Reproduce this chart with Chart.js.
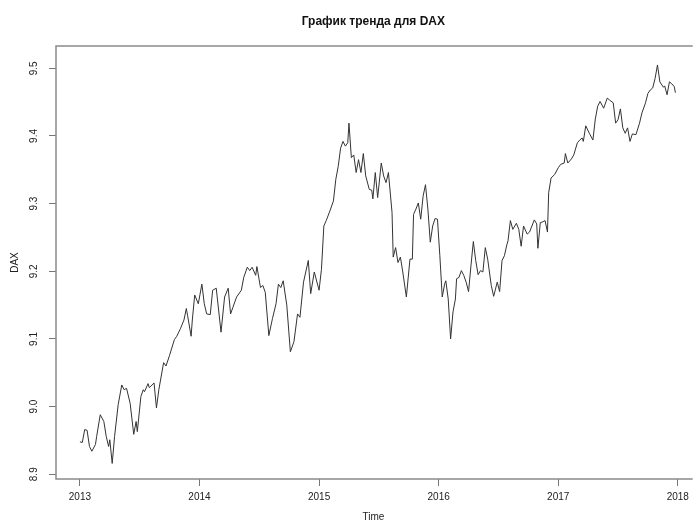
<!DOCTYPE html>
<html>
<head>
<meta charset="utf-8">
<script src="https://cdn.jsdelivr.net/npm/chart.js@4"></script>
<style>
  body { margin: 0; background: #fff; }
  #grafica { display: block; }
</style>
</head>
<body>
<canvas id="grafica" width="694" height="523"></canvas>
<script>
// weekly points (time in years, log of DAX)
const tiempo = [
  2013.00, 2013.02, 2013.04, 2013.06, 2013.08, 2013.10, 2013.13, 2013.14, 2013.17, 2013.20,
  2013.22, 2013.24, 2013.25, 2013.27, 2013.29, 2013.32, 2013.35, 2013.37, 2013.39, 2013.42,
  2013.45, 2013.47, 2013.48, 2013.51, 2013.53, 2013.54, 2013.57, 2013.58, 2013.62, 2013.64,
  2013.66, 2013.70, 2013.72, 2013.75, 2013.79, 2013.81, 2013.84, 2013.87, 2013.89, 2013.90,
  2013.93, 2013.94, 2013.96, 2013.99, 2014.02, 2014.04, 2014.06, 2014.09, 2014.11, 2014.14,
  2014.18, 2014.21, 2014.24, 2014.26, 2014.28, 2014.31, 2014.35, 2014.37,
  2014.40, 2014.42, 2014.44, 2014.47, 2014.48, 2014.51, 2014.53, 2014.55, 2014.58, 2014.61,
  2014.64, 2014.66, 2014.68, 2014.70, 2014.73, 2014.76, 2014.79, 2014.82, 2014.84, 2014.87,
  2014.91, 2014.93, 2014.96, 2015.00, 2015.02, 2015.04, 2015.06, 2015.09, 2015.12, 2015.14,
  2015.16, 2015.18, 2015.20, 2015.22, 2015.24, 2015.25, 2015.27, 2015.29, 2015.31, 2015.33,
  2015.35, 2015.37, 2015.39, 2015.42, 2015.44, 2015.45, 2015.47, 2015.49, 2015.52, 2015.54,
  2015.56, 2015.58, 2015.61, 2015.62, 2015.64, 2015.66, 2015.68, 2015.70, 2015.73, 2015.76,
  2015.78, 2015.79, 2015.81, 2015.83, 2015.85, 2015.87, 2015.89, 2015.91, 2015.93, 2015.95,
  2015.97, 2015.99, 2016.01, 2016.03, 2016.05, 2016.06, 2016.08,
  2016.10, 2016.12, 2016.14, 2016.15, 2016.17, 2016.19, 2016.21, 2016.23, 2016.25, 2016.27,
  2016.29, 2016.31, 2016.33, 2016.35, 2016.37, 2016.39, 2016.41, 2016.44, 2016.46, 2016.49,
  2016.51, 2016.53, 2016.55, 2016.57, 2016.58, 2016.60, 2016.62, 2016.65, 2016.67, 2016.69,
  2016.71, 2016.74, 2016.76, 2016.78, 2016.80, 2016.82, 2016.83, 2016.85, 2016.87, 2016.89,
  2016.91, 2016.92, 2016.94, 2016.97, 2017.00, 2017.02, 2017.05, 2017.06, 2017.08, 2017.11,
  2017.13, 2017.16, 2017.18, 2017.20, 2017.21, 2017.23, 2017.26, 2017.29, 2017.31, 2017.33,
  2017.35, 2017.38, 2017.41, 2017.43, 2017.46, 2017.48, 2017.50, 2017.52, 2017.54, 2017.56,
  2017.58, 2017.60, 2017.62, 2017.65, 2017.68, 2017.70, 2017.73, 2017.75, 2017.77, 2017.79,
  2017.81, 2017.83, 2017.85, 2017.88, 2017.89, 2017.91, 2017.93, 2017.95, 2017.97, 2017.98
];
const dax = [
  8.948, 8.947, 8.966, 8.965, 8.941, 8.934, 8.944, 8.956, 8.988, 8.978,
  8.956, 8.941, 8.951, 8.916, 8.956, 9.003, 9.032, 9.025, 9.027, 9.005,
  8.959, 8.978, 8.963, 9.015, 9.025, 9.022, 9.034, 9.028, 9.035, 8.998,
  9.025, 9.065, 9.060, 9.076, 9.099, 9.104, 9.115, 9.128, 9.145, 9.135,
  9.104, 9.128, 9.165, 9.152, 9.181, 9.152, 9.137, 9.136, 9.172, 9.175,
  9.110, 9.162, 9.175, 9.137, 9.147, 9.162, 9.172, 9.191,
  9.206, 9.201, 9.206, 9.194, 9.207, 9.176, 9.179, 9.169, 9.105, 9.130,
  9.152, 9.181, 9.176, 9.186, 9.150, 9.081, 9.096, 9.137, 9.132, 9.184,
  9.216, 9.167, 9.199, 9.172, 9.203, 9.267, 9.275, 9.289, 9.304, 9.336,
  9.355, 9.382, 9.392, 9.385, 9.390, 9.419, 9.368, 9.372, 9.346, 9.365,
  9.346, 9.374, 9.341, 9.321, 9.320, 9.307, 9.346, 9.309, 9.360, 9.341,
  9.331, 9.346, 9.287, 9.221, 9.235, 9.213, 9.221, 9.199, 9.162, 9.218,
  9.218, 9.284, 9.292, 9.301, 9.277, 9.311, 9.328, 9.292, 9.243, 9.267,
  9.278, 9.277, 9.223, 9.162, 9.181, 9.186, 9.159,
  9.100, 9.140, 9.159, 9.189, 9.191, 9.201, 9.194, 9.184, 9.170, 9.208,
  9.244, 9.216, 9.195, 9.201, 9.199, 9.235, 9.218, 9.179, 9.163, 9.184,
  9.170, 9.216, 9.223, 9.239, 9.245, 9.275, 9.262, 9.271, 9.262, 9.237,
  9.267, 9.255, 9.258, 9.267, 9.276, 9.270, 9.234, 9.272, 9.273, 9.275,
  9.258, 9.316, 9.338, 9.343, 9.353, 9.358, 9.360, 9.374, 9.360, 9.366,
  9.372, 9.390, 9.394, 9.397, 9.392, 9.415, 9.404, 9.394, 9.425, 9.444,
  9.451, 9.441, 9.456, 9.453, 9.449, 9.419, 9.424, 9.440, 9.412, 9.404,
  9.412, 9.392, 9.403, 9.402, 9.419, 9.434, 9.449, 9.463, 9.468, 9.471,
  9.485, 9.505, 9.480, 9.472, 9.474, 9.461, 9.480, 9.477, 9.473, 9.464
];
const ticksX = [2013, 2014, 2015, 2016, 2017, 2018];
const ticksY = [8.9, 9.0, 9.1, 9.2, 9.3, 9.4, 9.5];

const fuente = 'Arial, "Liberation Sans", sans-serif';

// caja del grafico (estilo R): arriba, izquierda, abajo
const caja = {
    id: 'caja',
    afterDraw(chart) {
        const { ctx, chartArea: a } = chart;
        ctx.save();
        ctx.strokeStyle = '#8a8a8a';
        ctx.lineWidth = 1.5;
        ctx.beginPath();
        ctx.moveTo(a.right + 2, a.top);
        ctx.lineTo(a.left, a.top);
        ctx.lineTo(a.left, a.bottom);
        ctx.lineTo(a.right + 2, a.bottom);
        ctx.stroke();
        ctx.restore();
    }
};

const ctx = document.getElementById('grafica').getContext('2d');
const chart = new Chart(ctx, {
    type: 'line',
    data: {
        datasets: [{
            label: 'DAX',
            data: tiempo.map((t, i) => ({ x: t, y: dax[i] })),
            borderColor: '#333',
            borderWidth: 1,
            pointRadius: 0,
            tension: 0,
            fill: false
        }]
    },
    options: {
        responsive: false,
        animation: false,
        layout: { padding: 0 },
        plugins: {
            legend: { display: false },
            tooltip: { enabled: false },
            title: {
                display: true,
                text: 'График тренда для DAX',
                fullSize: false,
                color: '#111',
                font: { family: fuente, size: 12, weight: 'bold', lineHeight: 1.2 },
                padding: { top: 14, bottom: 17.6 }
            }
        },
        scales: {
            x: {
                type: 'linear',
                min: 2012.8,
                max: 2018.108,
                afterFit: s => { s.height = 44; },
                afterBuildTicks: s => { s.ticks = ticksX.map(v => ({ value: v })); },
                grid: { drawOnChartArea: false, drawTicks: true, tickLength: 7, color: '#777' },
                border: { display: false },
                ticks: {
                    color: '#222',
                    padding: 5,
                    maxRotation: 0,
                    autoSkip: false,
                    font: { family: fuente, size: 10 },
                    callback: v => String(v)
                },
                title: {
                    display: true,
                    text: 'Time',
                    color: '#222',
                    font: { family: fuente, size: 10 },
                    padding: { top: 0, bottom: 0 }
                }
            },
            y: {
                type: 'linear',
                min: 8.893,
                max: 9.533,
                afterFit: s => { s.width = 56; },
                afterBuildTicks: s => { s.ticks = ticksY.map(v => ({ value: v })); },
                grid: { drawOnChartArea: false, drawTicks: true, tickLength: 7, color: '#777' },
                border: { display: false },
                ticks: {
                    color: '#222',
                    padding: 8,
                    minRotation: 90,
                    maxRotation: 90,
                    crossAlign: 'center',
                    autoSkip: false,
                    font: { family: fuente, size: 10 },
                    callback: v => v.toFixed(1)
                },
                title: {
                    display: true,
                    text: 'DAX',
                    color: '#222',
                    font: { family: fuente, size: 10 },
                    padding: { top: 9, bottom: 0 }
                }
            }
        }
    },
    plugins: [caja]
});
</script>
</body>
</html>
